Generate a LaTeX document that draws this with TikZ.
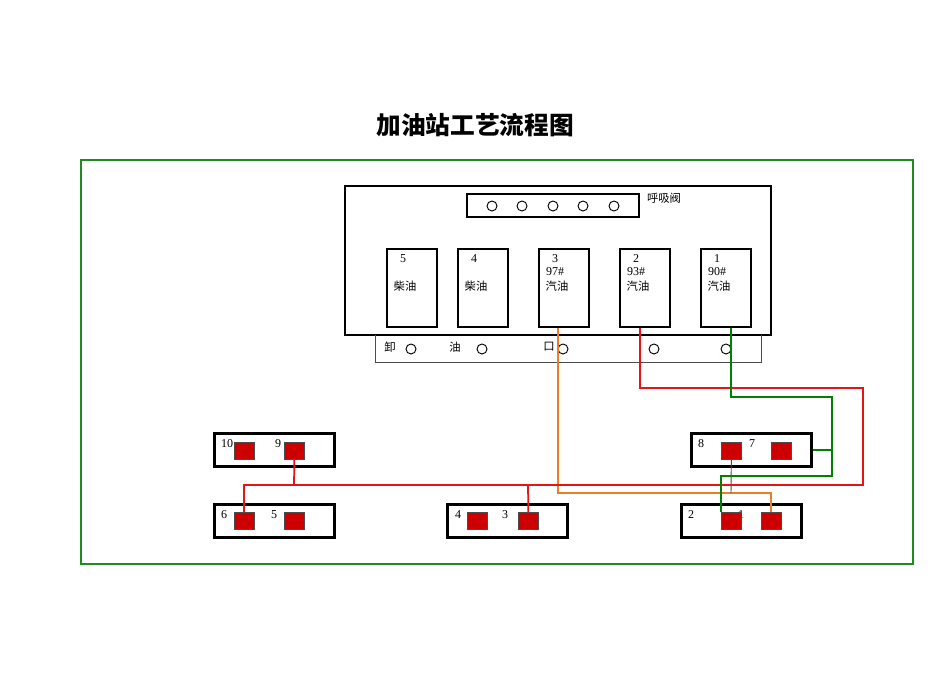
\documentclass[tikz,border=0pt]{standalone}
\usepackage{fontspec}
\setmainfont{Liberation Serif}
\newfontfamily\cjk{Noto Sans CJK SC}
\definecolor{pr}{RGB}{230,20,20}
\definecolor{sq}{RGB}{204,0,0}
\definecolor{pg}{RGB}{0,130,0}
\definecolor{fg}{RGB}{30,140,30}
\definecolor{po}{RGB}{235,125,40}
\begin{document}
\begin{tikzpicture}[x=0.75pt,y=-0.75pt,
  tank/.style={draw,line width=1.3pt,minimum width=50*0.75pt,minimum height=78*0.75pt,inner sep=0,anchor=north west},
  disp/.style={draw,line width=2.2pt,minimum width=120*0.75pt,minimum height=33*0.75pt,inner sep=0,anchor=north west},
  sqr/.style={draw=black!70,line width=0.5pt,fill=sq,minimum width=20*0.75pt,minimum height=17*0.75pt,inner sep=0,anchor=north west},
  hole/.style={draw,circle,minimum size=10*0.75pt,inner sep=0,line width=0.7pt},
  lab/.style={font=\fontsize{9}{10}\selectfont,inner sep=0},
  clab/.style={font=\cjk\fontsize{8.5}{10}\selectfont,inner sep=0},
  pipe/.style={line width=1.3pt}]
\useasboundingbox (0,0) rectangle (950,672);
\node[font=\cjk\bfseries\fontsize{18.5}{22}\selectfont] (title) at (475,125) {加油站工艺流程图};
\draw[fg,line width=1.4pt] (81,160) rectangle (913,564);
% tank area
\draw[line width=1.4pt] (345,186) rectangle (771,335);
\draw[line width=1.4pt] (467,194) rectangle (639,217);
\foreach \x/\n in {492/a,522/b,553/c,583/d,614/e} \node[hole] (v\n) at (\x,206) {};
\node[clab] (hx) at (664,198) {呼吸阀};
\draw[black!70,line width=0.7pt] (375,335) -- (375,362) -- (761,362) -- (761,335);
\foreach \x/\n in {411/a,482/b,563/c,654/d,726/e} \node[hole] (u\n) at (\x,349) {};
\node[clab] (x1) at (390,347) {卸};
\node[clab] (x2) at (455,347) {油};
\node[clab] (x3) at (549,347) {口};
\node[tank] (t5) at (386,248) {};
\node[tank] (t4) at (457,248) {};
\node[tank] (t3) at (538,248) {};
\node[tank] (t2) at (619,248) {};
\node[tank] (t1) at (700,248) {};
\node[lab] at (403,259) {5};
\node[clab] at (405,286) {柴油};
\node[lab] at (474,259) {4};
\node[clab] at (476,286) {柴油};
\node[lab] at (555,259) {3};
\node[lab] at (555,272) {97\#};
\node[clab] at (557,286) {汽油};
\node[lab] at (636,259) {2};
\node[lab] at (636,272) {93\#};
\node[clab] at (638,286) {汽油};
\node[lab] at (717,259) {1};
\node[lab] at (717,272) {90\#};
\node[clab] at (719,286) {汽油};
% dispensers
\node[disp] (d1) at (213,432) {};
\node[disp] (d2) at (690,432) {};
\node[disp] (d3) at (213,503) {};
\node[disp] (d4) at (446,503) {};
\node[disp] (d5) at (680,503) {};
\node[lab] at (227,444) {10};
\node[lab] at (278,444) {9};
\node[lab] at (701,444) {8};
\node[lab] at (752,444) {7};
\node[lab] at (224,515) {6};
\node[lab] at (274,515) {5};
\node[lab] at (458,515) {4};
\node[lab] at (505,515) {3};
\node[lab] at (691,515) {2};
\node[lab] at (741,515) {1};
\node[sqr] (s10) at (234,442) {};
\node[sqr] (s9) at (284,442) {};
\node[sqr] (s8) at (721,442) {};
\node[sqr] (s7) at (771,442) {};
\node[sqr] (s6) at (234,512) {};
\node[sqr] (s5) at (284,512) {};
\node[sqr] (s4) at (467,512) {};
\node[sqr] (s3) at (518,512) {};
\node[sqr] (s2) at (721,512) {};
\node[sqr] (s1) at (761,512) {};
% pipes
\draw[pipe,po] (t3.south west) ++(20,0) -- (558,493) -| (s1.north);
\draw[black!70,line width=0.7pt] (s8.south) -- (731,493);
\draw[pipe,pr] (t2.south west) ++(21,0) -- (640,388) -- (863,388) -- (863,485) -| (s6.north);
\draw[pipe,pr] (s9.south) -- (294,485);
\draw[pipe,pr] (528,485) -- (s3.north);
\draw[pipe,pg] (t1.south west) ++(31,0) -- (731,397) -- (832,397) -- (832,476) -| (s2.north west);
\draw[pipe,pg] (d2.east) -- (832,450);
\end{tikzpicture}
\end{document}
